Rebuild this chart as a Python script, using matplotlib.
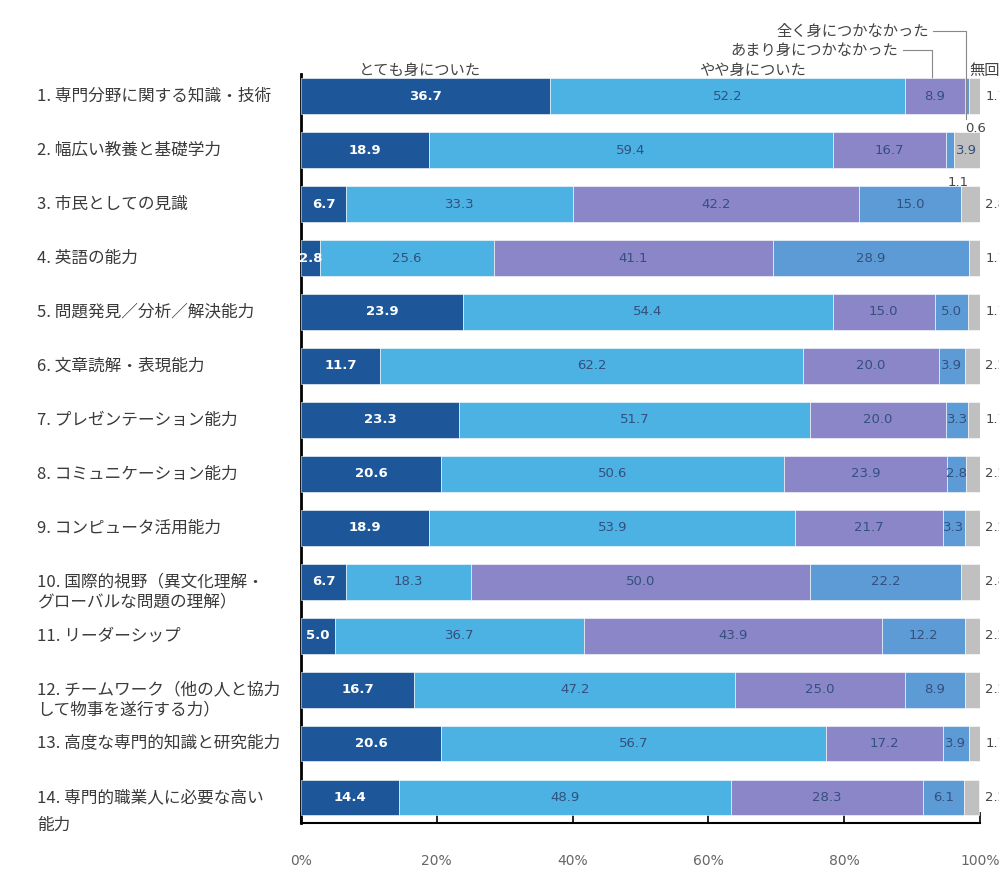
import numpy as np
import matplotlib
matplotlib.use("Agg")
import matplotlib.pyplot as plt
import matplotlib.transforms as mtransforms

plt.rcParams['font.family'] = ['Noto Sans CJK JP', 'DejaVu Sans']

items = [
    "1. 専門分野に関する知識・技術",
    "2. 幅広い教養と基礎学力",
    "3. 市民としての見識",
    "4. 英語の能力",
    "5. 問題発見／分析／解決能力",
    "6. 文章読解・表現能力",
    "7. プレゼンテーション能力",
    "8. コミュニケーション能力",
    "9. コンピュータ活用能力",
    "10. 国際的視野（異文化理解・\nグローバルな問題の理解）",
    "11. リーダーシップ",
    "12. チームワーク（他の人と協力\nして物事を遂行する力）",
    "13. 高度な専門的知識と研究能力",
    "14. 専門的職業人に必要な高い\n能力",
]

categories = ["とても身についた", "やや身についた", "あまり身につかなかった",
              "全く身につかなかった", "無回答"]

very = [36.7, 18.9, 6.7, 2.8, 23.9, 11.7, 23.3, 20.6, 18.9, 6.7, 5.0, 16.7, 20.6, 14.4]
some = [52.2, 59.4, 33.3, 25.6, 54.4, 62.2, 51.7, 50.6, 53.9, 18.3, 36.7, 47.2, 56.7, 48.9]
little = [8.9, 16.7, 42.2, 41.1, 15.0, 20.0, 20.0, 23.9, 21.7, 50.0, 43.9, 25.0, 17.2, 28.3]
none_ = [0.6, 1.1, 15.0, 28.9, 5.0, 3.9, 3.3, 2.8, 3.3, 22.2, 12.2, 8.9, 3.9, 6.1]
no_answer = [1.7, 3.9, 2.8, 1.7, 1.7, 2.2, 1.7, 2.2, 2.2, 2.8, 2.2, 2.2, 1.7, 2.2]

series = [very, some, little, none_, no_answer]
colors = ["#1d5799", "#4cb1e3", "#8b86c8", "#5d9bd7", "#c0c0c0"]
text_dark = "#34507d"
num_font = "DejaVu Sans"

fig = plt.figure(figsize=(9.99, 8.72), dpi=100)
ax = fig.add_axes([301 / 999, 49 / 872, 679 / 999, (823 - 74) / 872])

y = np.arange(len(items))
left = np.zeros(len(items))
bar_h = 0.66

for k, vals in enumerate(series):
    vals = np.array(vals)
    ax.barh(y, vals, left=left, height=bar_h, color=colors[k],
            edgecolor="white", linewidth=0.4, zorder=3)
    for i, v in enumerate(vals):
        cx = left[i] + v / 2
        if k == 0:
            ax.text(cx, i, f"{v:.1f}", ha="center", va="center", family=num_font,
                    color="white", fontsize=9.5, fontweight="bold", zorder=5)
        elif k in (1, 2):
            ax.text(cx, i, f"{v:.1f}", ha="center", va="center", family=num_font,
                    color=text_dark, fontsize=9.5, zorder=5)
        elif k == 3:
            if v < 2:
                # tiny segment: label below the bar
                ax.text(cx + 1.2, i + 0.6, f"{v:.1f}", ha="center", va="center",
                        family=num_font, color="#444444", fontsize=9.5, zorder=5)
            else:
                ax.text(cx, i, f"{v:.1f}", ha="center", va="center", family=num_font,
                        color=text_dark, fontsize=9.5, zorder=5)
        else:
            if v >= 3.5:
                ax.text(cx, i, f"{v:.1f}", ha="center", va="center", family=num_font,
                        color=text_dark, fontsize=9.5, zorder=5)
            else:
                ax.text(100.8, i, f"{v:.1f}", ha="left", va="center", family=num_font,
                        color="#444444", fontsize=9.5, clip_on=False)
    left += vals

# row labels
trans = mtransforms.blended_transform_factory(fig.transFigure, ax.transData)
for i, name in enumerate(items):
    lines = name.split("\n")
    gap = 0.52 if i == 13 else 0.37
    for j, line in enumerate(lines):
        fig.text(37 / 999, i + j * gap, line, ha="left", va="center",
                 fontsize=12, color="#3a3a3a", transform=trans)

ax.set_xlim(0, 100)
ax.set_ylim(13.47, -0.41)
ax.set_yticks([])
ax.set_xticks([0, 20, 40, 60, 80, 100])
ax.set_xticklabels(["0%", "20%", "40%", "60%", "80%", "100%"], family=num_font)
ax.tick_params(axis="x", direction="in", length=8, width=1.2, pad=22,
               labelsize=10, labelcolor="#666666")
for s in ["top", "right"]:
    ax.spines[s].set_visible(False)
ax.spines["left"].set_linewidth(2)
ax.spines["bottom"].set_linewidth(1.5)

# header labels
hdr = dict(fontsize=11, color="#444444", va="center", clip_on=False)
ax.text(17.5, -0.48, categories[0], ha="center", **hdr)
ax.text(66.5, -0.48, categories[1], ha="center", **hdr)
ax.text(88.0, -0.85, categories[2], ha="right", **hdr)
ax.text(92.5, -1.2, categories[3], ha="right", **hdr)
ax.text(98.5, -0.48, categories[4], ha="left", **hdr)

# leader lines
ax.plot([88.6, 92.9, 92.9], [-0.85, -0.85, -0.33], color="#888888", lw=0.8,
        clip_on=False, zorder=2)
ax.plot([93.1, 97.9, 97.9], [-1.2, -1.2, 0.42], color="#888888", lw=0.8,
        clip_on=False, zorder=4)

fig.savefig("out.png", dpi=100)
